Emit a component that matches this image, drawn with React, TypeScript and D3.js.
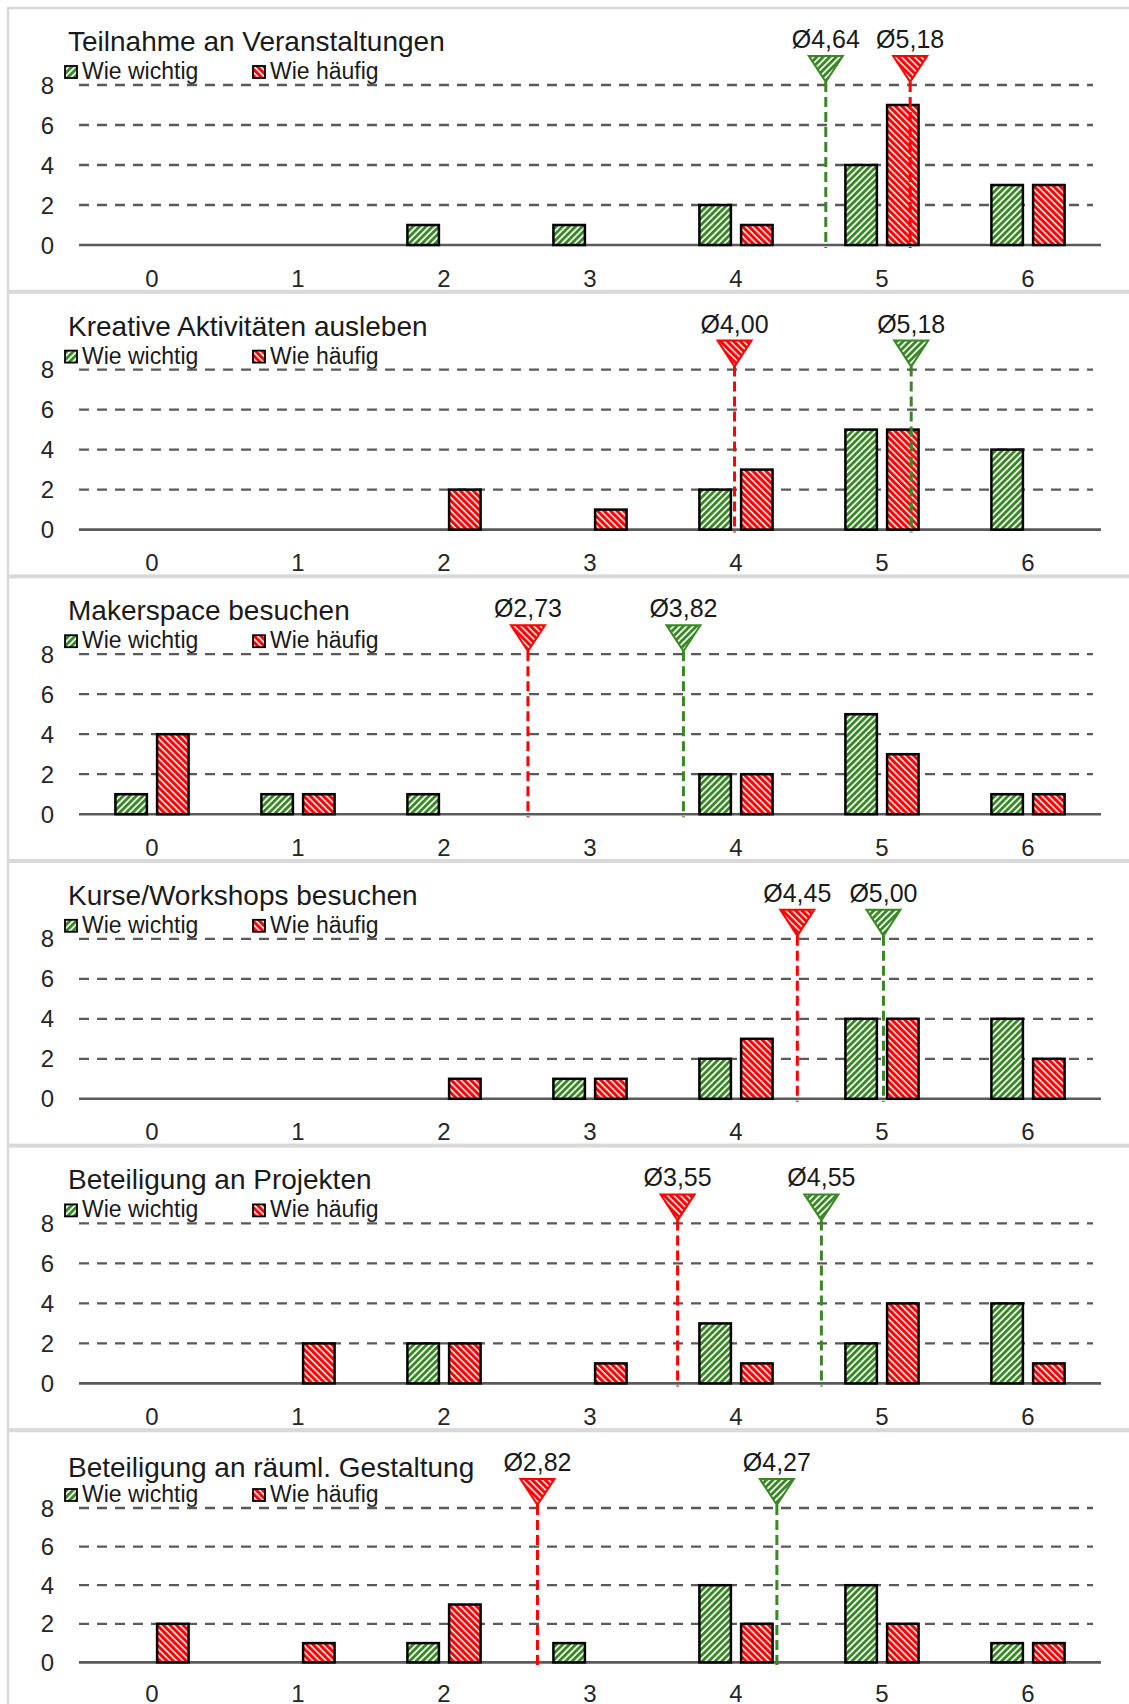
import React from "react";
import * as d3 from "d3";

const categories = [0, 1, 2, 3, 4, 5, 6];
const yTicks = [0, 2, 4, 6, 8];

const titles = [
  "Teilnahme an Veranstaltungen",
  "Kreative Aktivitäten ausleben",
  "Makerspace besuchen",
  "Kurse/Workshops besuchen",
  "Beteiligung an Projekten",
  "Beteiligung an räuml. Gestaltung",
];

const wichtigVeranstaltungen = [0, 0, 1, 1, 2, 4, 3];
const haeufigVeranstaltungen = [0, 0, 0, 0, 1, 7, 3];
const wichtigKreativ = [0, 0, 0, 0, 2, 5, 4];
const haeufigKreativ = [0, 0, 2, 1, 3, 5, 0];
const wichtigMakerspace = [1, 1, 1, 0, 2, 5, 1];
const haeufigMakerspace = [4, 1, 0, 0, 2, 3, 1];
const wichtigKurse = [0, 0, 0, 1, 2, 4, 4];
const haeufigKurse = [0, 0, 1, 1, 3, 4, 2];
const wichtigProjekte = [0, 0, 2, 0, 3, 2, 4];
const haeufigProjekte = [0, 2, 2, 1, 1, 4, 1];
const wichtigGestaltung = [0, 0, 1, 1, 4, 4, 1];
const haeufigGestaltung = [2, 1, 3, 0, 2, 2, 1];

const meanWichtigLabels = ["4,64", "5,18", "3,82", "5,00", "4,55", "4,27"];
const meanHaeufigLabels = ["5,18", "4,00", "2,73", "4,45", "3,55", "2,82"];
// marker positions as drawn in the picture (x-axis units)
const meanWichtigPos = [4.615, 5.2, 3.64, 5.01, 4.585, 4.28];
const meanHaeufigPos = [5.193, 3.99, 2.575, 4.42, 3.6, 2.64];

const legendLabels = ["Wie wichtig", "Wie häufig"];

const wichtigSeries = [wichtigVeranstaltungen, wichtigKreativ, wichtigMakerspace, wichtigKurse, wichtigProjekte, wichtigGestaltung];
const haeufigSeries = [haeufigVeranstaltungen, haeufigKreativ, haeufigMakerspace, haeufigKurse, haeufigProjekte, haeufigGestaltung];

const GREEN = "#3a8726";
const RED = "#ff0000";
const FONT = "'Liberation Sans', Arial, sans-serif";
const W = 1129;
const H = 1704;

export default function App() {
  const x0 = d3
    .scaleBand<number>()
    .domain(categories)
    .range([79, 1101])
    .paddingInner(0.4815)
    .paddingOuter(0.24075);
  const x1 = d3
    .scaleBand<string>()
    .domain(["w", "h"])
    .range([0, x0.bandwidth()])
    .paddingInner(0.185);
  const center = (c: number) => (x0(c) as number) + x0.bandwidth() / 2;
  const xm = d3.scaleLinear().domain([0, 6]).range([center(0), center(6)]);

  const sw = 2.5;

  return (
    <svg
      width={W}
      height={H}
      style={{ position: "absolute", left: 0, top: 0, background: "#fff" }}
      fontFamily={FONT}
    >
      <defs>
        <pattern id="hatchG" patternUnits="userSpaceOnUse" width={4.6} height={4.6} patternTransform="rotate(45)">
          <rect width={4.6} height={4.6} fill="#fff" />
          <rect width={2.9} height={4.6} fill={GREEN} />
        </pattern>
        <pattern id="hatchR" patternUnits="userSpaceOnUse" width={4.6} height={4.6} patternTransform="rotate(-45)">
          <rect width={4.6} height={4.6} fill="#fff" />
          <rect width={3.1} height={4.6} fill={RED} />
        </pattern>
      </defs>
      <rect width={W} height={H} fill="#fff" />
      {titles.map((title, i) => {
        const top = 8 + i * 284.6;
        const unit = i === 5 ? 19.3 : 20;
        const grid8 = top + 77;
        const zero = grid8 + 8 * unit;
        const y = d3.scaleLinear().domain([0, 8]).range([zero, grid8]);
        const labOff = i === 5 ? 31 : 33;
        const wv = wichtigSeries[i];
        const hv = haeufigSeries[i];
        const markers = [
          { pos: meanWichtigPos[i], label: meanWichtigLabels[i], color: GREEN, fill: "url(#hatchG)" },
          { pos: meanHaeufigPos[i], label: meanHaeufigLabels[i], color: RED, fill: "url(#hatchR)" },
        ];
        const titleDy = i === 5 ? 2.5 : 0;
        return (
          <g key={title}>
            <rect x={8} y={top} width={1140} height={283} fill="#fff" stroke="#d9d9d9" strokeWidth={2.5} />
            <text x={68} y={top + 43 + titleDy} fontSize={28} fill="#1a1a1a">
              {title}
            </text>
            {legendLabels.map((lab, k) => {
              const lx = k === 0 ? 65 : 253;
              return (
                <g key={lab}>
                  <rect
                    x={lx}
                    y={top + 58}
                    width={12}
                    height={12}
                    fill={k === 0 ? "url(#hatchG)" : "url(#hatchR)"}
                    stroke="#000"
                    strokeWidth={1.8}
                  />
                  <text x={lx + 17} y={top + 71} fontSize={23} fill="#1a1a1a">
                    {lab}
                  </text>
                </g>
              );
            })}
            {yTicks.map((t) => (
              <g key={t}>
                {t > 0 && (
                  <line
                    x1={79}
                    x2={1093}
                    y1={y(t)}
                    y2={y(t)}
                    stroke="#5a5a5a"
                    strokeWidth={2.3}
                    strokeDasharray="10,8"
                  />
                )}
                <text
                  x={54}
                  y={y(t)}
                  fontSize={24}
                  textAnchor="end"
                  dominantBaseline="central"
                  fill="#262626"
                >
                  {t}
                </text>
              </g>
            ))}
            <line x1={79} x2={1101} y1={zero} y2={zero} stroke="#5a5a5a" strokeWidth={2.6} />
            {categories.map((c) => (
              <text
                key={c}
                x={center(c)}
                y={zero + labOff}
                fontSize={24}
                textAnchor="middle"
                dominantBaseline="central"
                fill="#262626"
              >
                {c}
              </text>
            ))}
            {categories.map((c, ci) => (
              <g key={"b" + c}>
                {[
                  { key: "w", v: wv[ci], fill: "url(#hatchG)" },
                  { key: "h", v: hv[ci], fill: "url(#hatchR)" },
                ].map((b) =>
                  b.v > 0 ? (
                    <rect
                      key={b.key}
                      x={(x0(c) as number) + (x1(b.key) as number) + sw / 2}
                      y={y(b.v)}
                      width={x1.bandwidth() - sw}
                      height={zero - y(b.v)}
                      fill={b.fill}
                      stroke="#000"
                      strokeWidth={sw}
                    />
                  ) : null
                )}
              </g>
            ))}
            {markers.map((m) => {
              const mx = xm(m.pos);
              const tTop = grid8 - 29;
              const tTip = grid8 - 3;
              return (
                <g key={m.color}>
                  <line
                    x1={mx}
                    x2={mx}
                    y1={tTip}
                    y2={zero + 3}
                    stroke={m.color}
                    strokeWidth={3}
                    strokeDasharray="10,5"
                  />
                  <path
                    d={`M${mx - 17},${tTop} L${mx + 17},${tTop} L${mx},${tTip} Z`}
                    fill={m.fill}
                    stroke={m.color}
                    strokeWidth={2}
                  />
                  <text x={mx} y={grid8 - 37} fontSize={25} textAnchor="middle" fill="#1a1a1a">
                    {"Ø" + m.label}
                  </text>
                </g>
              );
            })}
          </g>
        );
      })}
    </svg>
  );
}
